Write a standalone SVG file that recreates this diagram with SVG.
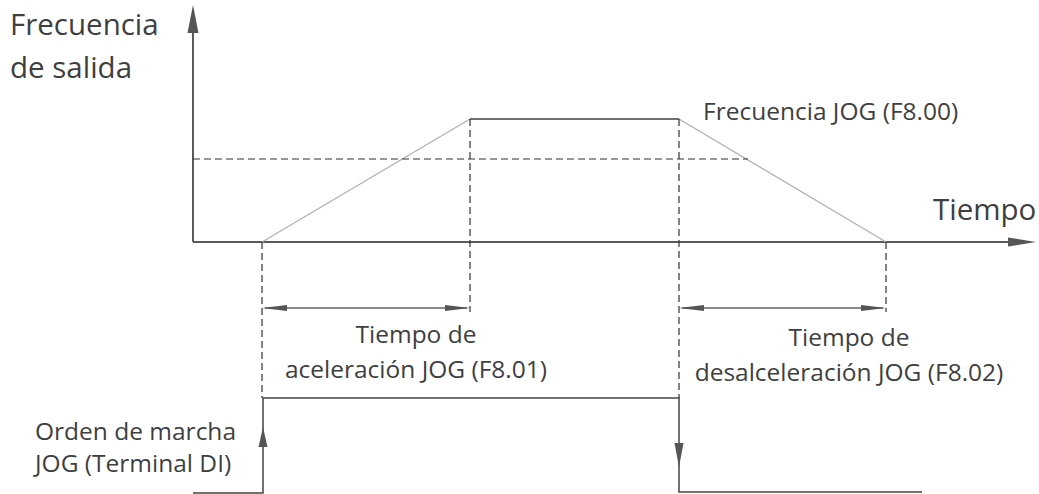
<svg xmlns="http://www.w3.org/2000/svg" width="1039" height="494" viewBox="0 0 1039 494">
<style>
text{font-family:"Open Sans","Noto Sans","Liberation Sans",sans-serif;fill:#3f3f3f}
.axis{stroke:#5a5a5a;stroke-width:2;fill:none}
.ramp{stroke:#b0b0b0;stroke-width:1.2;fill:none}
.flat{stroke:#707070;stroke-width:2;fill:none}
.dash{stroke:#333;stroke-width:1.2;stroke-dasharray:7,4;fill:none}
.dim{stroke:#666;stroke-width:1.3;fill:none}
.sig{stroke:#444;stroke-width:1.5;fill:none}
.head{fill:#555;stroke:none}
.lbl{font-size:24.5px}
</style>
<rect width="1039" height="494" fill="#fff"/>
<g id="connectors">
<line class="axis" x1="193" y1="30" x2="193" y2="242"/>
<polygon class="head" points="193,5 187.5,33 198.5,33"/>
<line class="axis" x1="193" y1="242" x2="1012" y2="242"/>
<polygon class="head" points="1036,242 1008,237.5 1008,246.5"/>
<polyline class="ramp" points="262,242 470,119"/>
<polyline class="flat" points="470,119 679,119"/>
<polyline class="ramp" points="679,119 886,242"/>
<line class="dash" x1="193" y1="159" x2="748" y2="159"/>
<line class="dash" x1="262" y1="242" x2="262" y2="398"/>
<line class="dash" x1="470" y1="119" x2="470" y2="312"/>
<line class="dash" x1="679" y1="119" x2="679" y2="398"/>
<line class="dash" x1="886" y1="242" x2="886" y2="312"/>
<line class="dim" x1="265" y1="308" x2="467" y2="308"/>
<polygon class="head" points="262,308 287,305 287,311"/>
<polygon class="head" points="470,308 445,305 445,311"/>
<line class="dim" x1="682" y1="308" x2="883" y2="308"/>
<polygon class="head" points="679,308 704,305 704,311"/>
<polygon class="head" points="886,308 861,305 861,311"/>
<polyline class="sig" points="193,493 263,493 263,398 679,398 679,492 922,492"/>
<polygon class="head" points="263,427 258.5,447 267.5,447"/>
<polygon class="head" points="679,467 674.5,443 683.5,443"/>
</g>
<g id="label-freq-salida">
<text x="10" y="35" font-size="29.5">Frecuencia</text>
<text x="10" y="78" font-size="29.5">de salida</text>
</g>
<g id="label-tiempo">
<text x="933" y="220" font-size="29.5">Tiempo</text>
</g>
<g id="label-freq-jog">
<text class="lbl" x="703" y="120">Frecuencia JOG (F8.00)</text>
</g>
<g id="label-accel">
<text class="lbl" x="416" y="343" text-anchor="middle">Tiempo de</text>
<text class="lbl" x="416" y="378" text-anchor="middle">aceleración JOG (F8.01)</text>
</g>
<g id="label-decel">
<text class="lbl" x="849" y="346" text-anchor="middle">Tiempo de</text>
<text class="lbl" x="849" y="381" text-anchor="middle">desalceleración JOG (F8.02)</text>
</g>
<g id="label-orden">
<text class="lbl" x="35" y="440">Orden de marcha</text>
<text class="lbl" x="35" y="472">JOG (Terminal DI)</text>
</g>
</svg>
